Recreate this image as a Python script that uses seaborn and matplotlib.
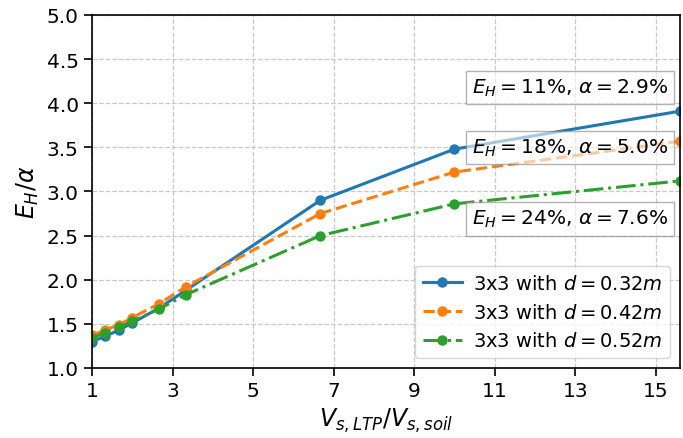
import matplotlib
matplotlib.use("Agg")
import matplotlib.pyplot as plt
import seaborn as sns
import numpy as np

x_vals = [1.0, 1.33, 1.67, 2.0, 2.67, 3.33, 6.67, 10.0, 15.6]
y_d032 = [1.30, 1.36, 1.43, 1.51, 1.68, 1.88, 2.90, 3.48, 3.91]
y_d042 = [1.37, 1.43, 1.49, 1.57, 1.73, 1.92, 2.75, 3.22, 3.57]
y_d052 = [1.34, 1.40, 1.46, 1.53, 1.67, 1.83, 2.50, 2.86, 3.12]
labels = [r"3x3 with $d = 0.32m$", r"3x3 with $d = 0.42m$", r"3x3 with $d = 0.52m$"]
annotations = [r"$E_H = 11\%$, $\alpha = 2.9\%$",
               r"$E_H = 18\%$, $\alpha = 5.0\%$",
               r"$E_H = 24\%$, $\alpha = 7.6\%$"]
annot_y = [4.18, 3.50, 2.69]
x_ticks = [1, 3, 5, 7, 9, 11, 13, 15]

fig, ax = plt.subplots(figsize=(6.83, 4.39), dpi=100)
fig.subplots_adjust(left=0.1347, right=0.9956, top=0.9636, bottom=0.1595)

colors = ["#1f77b4", "#ff7f0e", "#2ca02c"]
styles = ["-", "--", "-."]
for ys, lab, c, ls in zip([y_d032, y_d042, y_d052], labels, colors, styles):
    sns.lineplot(x=x_vals, y=ys, ax=ax, color=c, linestyle=ls, marker="o",
                 markersize=7.5, markeredgewidth=0, linewidth=2.2, label=lab, sort=False)

for txt, yy in zip(annotations, annot_y):
    ax.text(15.3, yy, txt, ha="right", va="center", fontsize=14.5,
            bbox=dict(boxstyle="square,pad=0.3", facecolor="white", edgecolor="gray", alpha=0.6))

ax.set_xlim(1, 15.6)
ax.set_ylim(1.0, 5.0)
ax.set_xticks(x_ticks)
ax.set_yticks(np.arange(1.0, 5.01, 0.5))
ax.tick_params(labelsize=14.5, length=6, width=1.2)
for sp in ax.spines.values():
    sp.set_linewidth(1.2)
ax.grid(True, linestyle="--", color="#c8c8c8", linewidth=0.9)
ax.set_xlabel(r"$V_{s,LTP}/V_{s,soil}$", fontsize=17)
ax.set_ylabel(r"$E_H/\alpha$", fontsize=17)
ax.legend(loc="lower right", fontsize=14, handletextpad=0.6)

fig.savefig("out.png", dpi=100)
